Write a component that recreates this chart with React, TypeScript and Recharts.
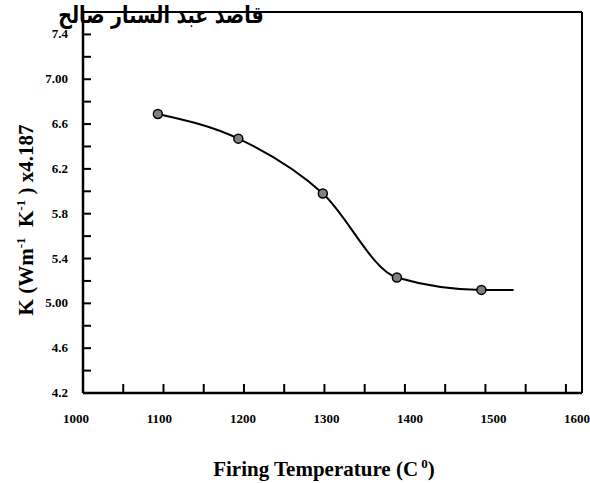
import React from 'react';
import { ComposedChart, Line, Scatter, XAxis, YAxis, ReferenceLine } from 'recharts';

// Measured points (firing temperature, K)
const temps = [1093, 1193, 1298, 1390, 1495];
const kValues = [6.69, 6.47, 5.98, 5.23, 5.12];
// curve continues a little past the last point
const curveEndTemp = 1535;
const curveEndK = 5.12;

const xTicks = [1000, 1050, 1100, 1150, 1200, 1250, 1300, 1350, 1400, 1450, 1500, 1550, 1600];
const xTickLabels: Record<number, string> = {
  1000: '1000', 1100: '1100', 1200: '1200', 1300: '1300', 1400: '1400', 1500: '1500', 1600: '1600',
};
const yTicks = [4.2, 4.4, 4.6, 4.8, 5.0, 5.2, 5.4, 5.6, 5.8, 6.0, 6.2, 6.4, 6.6, 6.8, 7.0, 7.2, 7.4];
const yTickLabels: Record<string, string> = {
  '4.2': '4.2', '4.6': '4.6', '5': '5.00', '5.4': '5.4', '5.8': '5.8', '6.2': '6.2', '6.6': '6.6', '7': '7.00', '7.4': '7.4',
};

const arabicTitle = 'قاصد عبد الستار صالح';

const pointData = temps.map((t, i) => ({ t, k: kValues[i] }));
const curveData = [...pointData, { t: curveEndTemp, k: curveEndK }];

const serif = '"Liberation Serif", "Times New Roman", serif';

const XTick = (props: any) => {
  const { x, y, payload } = props;
  const v = payload.value as number;
  const label = xTickLabels[v];
  const shift = -7 + ((v - 1000) / 600) * 18;
  return (
    <g>
      <line x1={x} y1={y} x2={x} y2={y - 9} stroke="#000" strokeWidth={2} />
      {label && (
        <text x={x + shift} y={y + 30} textAnchor="middle" fontFamily={serif} fontWeight="bold" fontSize={13} fill="#000">
          {label}
        </text>
      )}
    </g>
  );
};

const YTick = (props: any) => {
  const { x, y, payload } = props;
  const v = payload.value as number;
  const label = yTickLabels[String(Math.round(v * 10) / 10)];
  return (
    <g>
      <line x1={x} y1={y} x2={x + 8} y2={y} stroke="#000" strokeWidth={2} />
      {label && (
        <text x={x - 15} y={y + 4} textAnchor="end" fontFamily={serif} fontWeight="bold" fontSize={13} fill="#000">
          {label}
        </text>
      )}
    </g>
  );
};

export default function App() {
  return (
    <div style={{ position: 'absolute', left: 0, top: 0, width: 590, height: 483, background: '#fff' }}>
      <ComposedChart
        width={590}
        height={483}
        margin={{ top: 12, right: 8, bottom: 89, left: 82 }}
      >
        <XAxis
          type="number"
          dataKey="t"
          domain={[1000, 1620]}
          ticks={xTicks}
          height={1}
          tickSize={0}
          tickMargin={0}
          tickLine={false}
          tick={<XTick />}
          axisLine={{ stroke: '#000', strokeWidth: 2.5 }}
          allowDataOverflow
          interval={0}
        />
        <YAxis
          type="number"
          dataKey="k"
          domain={[4.2, 7.6]}
          ticks={yTicks}
          width={1}
          tickSize={0}
          tickMargin={0}
          tickLine={false}
          tick={<YTick />}
          axisLine={{ stroke: '#000', strokeWidth: 2.5 }}
          allowDataOverflow
          interval={0}
        />
        <ReferenceLine y={7.6} stroke="#000" strokeWidth={2} ifOverflow="visible" />
        <ReferenceLine x={1620} stroke="#000" strokeWidth={2} ifOverflow="visible" />
        <Line
          data={curveData}
          dataKey="k"
          type="monotone"
          stroke="#000"
          strokeWidth={2}
          dot={false}
          activeDot={false}
          isAnimationActive={false}
        />
        <Scatter
          data={pointData}
          dataKey="k"
          fill="#808080"
          stroke="#000"
          strokeWidth={1.5}
          shape={(p: any) => <circle cx={p.cx} cy={p.cy} r={4.5} fill="#808080" stroke="#000" strokeWidth={1.5} />}
          isAnimationActive={false}
        />
      </ComposedChart>
      <div
        style={{
          position: 'absolute', left: 40, width: 242, top: 4, textAlign: 'center',
          fontFamily: '"DejaVu Sans", sans-serif', fontWeight: 'bold', fontSize: 19, direction: 'rtl', color: '#000',
          whiteSpace: 'nowrap', lineHeight: '20px', transform: 'scale(1, 1.25)',
        }}
      >
        {arabicTitle}
      </div>
      <div
        style={{
          position: 'absolute', left: 23, top: 220, width: 0, height: 0,
        }}
      >
        <div
          style={{
            position: 'absolute', left: 0, top: 0, transform: 'translate(-50%, -50%) rotate(-90deg)',
            fontFamily: serif, fontWeight: 'bold', fontSize: 21, whiteSpace: 'nowrap', color: '#000', lineHeight: '24px',
          }}
        >
          K (Wm<sup style={{ fontSize: 13 }}>-1</sup>&nbsp; K<sup style={{ fontSize: 13 }}>-1</sup> ) x4.187
        </div>
      </div>
      <div
        style={{
          position: 'absolute', left: 324, top: 466, width: 0, height: 0,
        }}
      >
        <div
          style={{
            position: 'absolute', left: 0, top: 0, transform: 'translate(-50%, -50%)',
            fontFamily: serif, fontWeight: 'bold', fontSize: 21, whiteSpace: 'nowrap', color: '#000', lineHeight: '24px',
          }}
        >
          Firing Temperature (C<sup style={{ fontSize: 13 }}> 0</sup>)
        </div>
      </div>
    </div>
  );
}
